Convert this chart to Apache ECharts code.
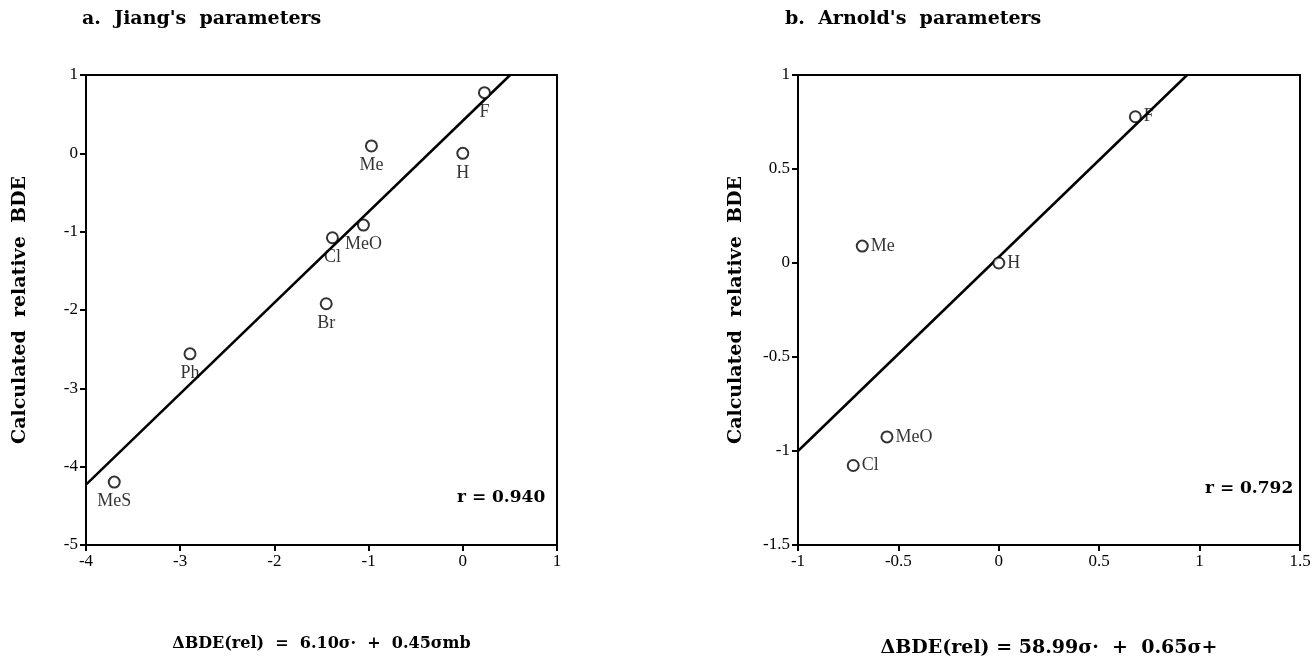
<!DOCTYPE html>
<html><head><meta charset="utf-8">
<script src="https://cdn.jsdelivr.net/npm/echarts@6/dist/echarts.min.js"></script>
<style>html,body{margin:0;padding:0;background:#fff}#c{width:1316px;height:667px}</style>
</head><body><div id="c"></div>
<script>
// Panel a: Jiang's parameters
const labelsA = ['F','Me','H','MeO','Cl','Br','Ph','MeS'];
const xA = [0.23,-0.97,0,-1.055,-1.384,-1.45,-2.896,-3.70];
const yA = [0.775,0.094,0,-0.916,-1.078,-1.92,-2.56,-4.197];
const fitA = [[-4,-4.23],[0.503,1]];
// Panel b: Arnold's parameters
const labelsB = ['F','Me','H','MeO','Cl'];
const xB = [0.68,-0.68,0,-0.557,-0.725];
const yB = [0.778,0.09,0,-0.925,-1.077];
const fitB = [[-1,-1],[0.938,1]];
const xTicksA = [-4,1,1], yTicksA = [-5,1,1];
const xTicksB = [-1,1.5,0.5], yTicksB = [-1.5,1,0.5];

const serif = '"Liberation Serif","Times New Roman",serif';
const bserif = '"DejaVu Serif","Liberation Serif",serif';
function axis(t, name, gap, size){
  return {
    type:'value', min:t[0], max:t[1], interval:t[2],
    name:name, nameLocation:'middle', nameGap:gap,
    nameTextStyle:{fontFamily:bserif,fontWeight:'bold',fontSize:size,color:'#000'},
    axisLine:{show:true,onZero:false,lineStyle:{color:'#000',width:2}},
    axisTick:{show:true,inside:false,length:6,lineStyle:{color:'#000',width:2}},
    axisLabel:{fontFamily:serif,fontSize:17,color:'#000',margin:8},
    splitLine:{show:false}
  };
}
const ptsA = labelsA.map((n,i)=>({name:n,value:[xA[i],yA[i]]}));
const ptsB = labelsB.map((n,i)=>({name:n,value:[xB[i],yB[i]]}));
const sym = {symbol:'circle',symbolSize:11,itemStyle:{color:'#fff',borderColor:'#000',borderWidth:2}};
const lbl = {fontFamily:serif,fontSize:18,color:'#000'};
const bt = s=>({fontFamily:bserif,fontWeight:'bold',fontSize:s,color:'#000'});
const option = {
  animation:false,
  title:[
    {text:"a.  Jiang's  parameters",left:77,top:5,textStyle:bt(19)},
    {text:"b.  Arnold's  parameters",left:780,top:5,textStyle:bt(19)},
    {text:"r = 0.940",left:452,top:484,textStyle:bt(17)},
    {text:"r = 0.792",left:1200,top:475,textStyle:bt(17)}
  ],
  grid:[
    {left:86,top:75,width:471,height:470,show:true,borderColor:'#000',borderWidth:2},
    {left:798,top:75,width:502,height:470,show:true,borderColor:'#000',borderWidth:2}
  ],
  xAxis:[
    Object.assign(axis(xTicksA,'\u0394BDE(rel)  =  6.10\u03c3\u00b7  +  0.45\u03c3mb',91,16),{gridIndex:0}),
    Object.assign(axis(xTicksB,'\u0394BDE(rel) = 58.99\u03c3\u00b7  +  0.65\u03c3+',94,19),{gridIndex:1})
  ],
  yAxis:[
    Object.assign(axis(yTicksA,'Calculated  relative  BDE',56,19),{gridIndex:0}),
    Object.assign(axis(yTicksB,'Calculated  relative  BDE',52,19),{gridIndex:1})
  ],
  series:[
    {type:'line',xAxisIndex:0,yAxisIndex:0,data:fitA,showSymbol:false,symbol:'none',lineStyle:{color:'#000',width:2.5},z:2},
    {type:'line',xAxisIndex:1,yAxisIndex:1,data:fitB,showSymbol:false,symbol:'none',lineStyle:{color:'#000',width:2.5},z:2},
    Object.assign({type:'scatter',xAxisIndex:0,yAxisIndex:0,data:ptsA,z:3,
      label:Object.assign({show:true,position:'bottom',distance:4,formatter:p=>p.name},lbl)},sym),
    Object.assign({type:'scatter',xAxisIndex:1,yAxisIndex:1,data:ptsB,z:3,
      label:Object.assign({show:true,position:'right',distance:2,formatter:p=>p.name},lbl)},sym)
  ]
};
const chart = echarts.init(document.getElementById('c'),null,{renderer:'canvas'});
chart.setOption(option);
</script></body></html>
